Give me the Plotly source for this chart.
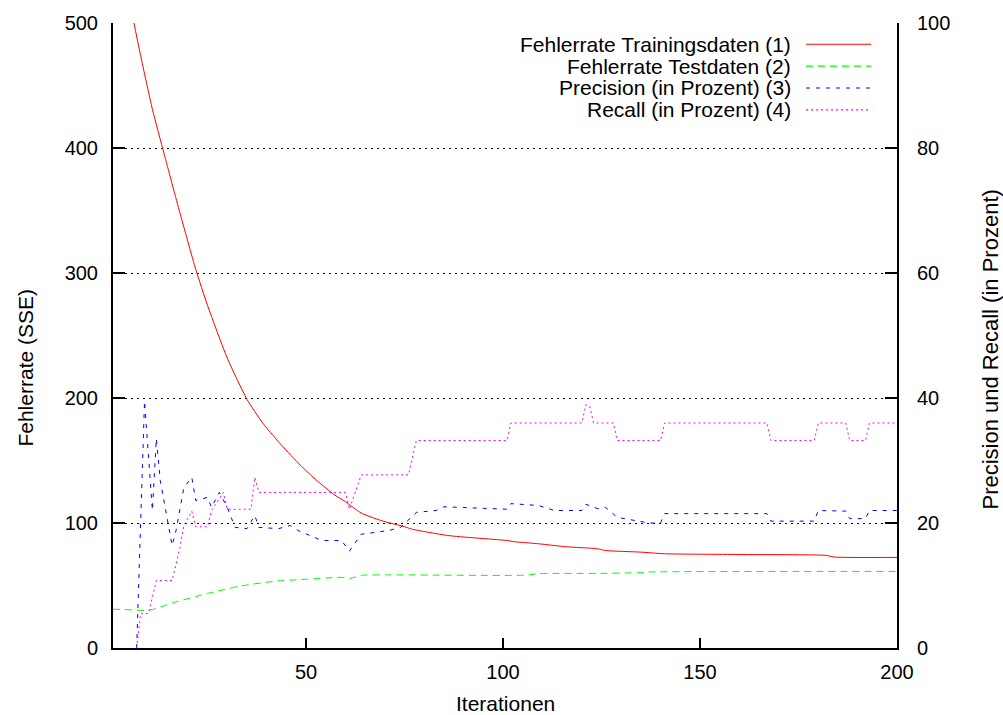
import plotly.graph_objects as go

# ---- data ----
x_train = [6, 8, 11, 14, 18, 22, 25, 30, 35, 39, 43, 48, 52, 57, 60, 64, 69, 75, 77, 86,
           101, 103, 109, 116, 124, 126, 135, 141, 160, 182, 184, 200]
y_train = [505, 474, 431, 395, 348, 303, 274, 232, 199, 180, 165, 148, 136, 123, 117, 108,
           102, 97, 95, 90, 86, 85, 83.4, 81, 79.4, 78, 76.7, 75.4, 74.8, 74.1, 72.8, 72.5]

x_test = [1, 4, 7, 9, 11, 17, 25, 33, 42, 50, 58, 60, 61, 64, 71, 106, 109, 124, 135, 137, 200]
y_test = [31, 30.8, 30.2, 30, 30.8, 36.9, 43.6, 49.4, 53.4, 55, 56.5, 56.3, 55.5, 58.1, 58.5,
          58.3, 59.5, 59.7, 60.3, 60.8, 61.3]

x_prec = [7, 9, 11, 12, 13, 16, 17, 19, 21, 22, 25, 26, 28, 30, 32, 35, 37, 38, 43, 46, 48,
          51, 54, 59, 61, 64, 71, 74, 75, 78, 83, 85, 101, 102, 109, 113, 120, 121, 124, 126,
          129, 137, 140, 141, 167, 168, 179, 180, 187, 188, 192, 193, 200]
y_prec = [0, 39.5, 22, 33.5, 26.8, 16.4, 18.8, 25.7, 27.3, 23.6, 24.1, 22.5, 24.9, 22.5, 19.3,
          19.1, 21.2, 19.3, 19.1, 19.6, 18.8, 18, 17.2, 17.2, 15.5, 18.2, 18.8, 19.3, 19.9,
          21.7, 22, 22.6, 22.2, 23.1, 22.8, 22, 22, 23, 22.3, 22.5, 20.9, 20, 20, 21.5, 21.5,
          20.3, 20.3, 22, 21.9, 20.7, 20.7, 22, 22]

x_rec = [7, 8, 10, 12, 16, 18, 19, 21, 22, 25, 26, 29, 30, 36, 37, 38, 60, 61, 64, 76, 78,
         101, 102, 120, 121, 122, 123, 128, 129, 140, 141, 167, 168, 179, 180, 187, 188, 192,
         193, 200]
y_rec = [0, 5.5, 5.5, 10.8, 10.8, 16.1, 19.6, 21.9, 19.4, 19.4, 22, 24.9, 22.2, 22.2, 27.3,
         24.9, 24.9, 22.2, 27.7, 27.7, 33.2, 33.2, 36, 36, 38.9, 38.7, 36, 36, 33.2, 33.2, 36,
         36, 33.2, 33.2, 36, 36, 33.2, 33.2, 36, 36]

names = ["Fehlerrate Trainingsdaten (1)", "Fehlerrate Testdaten (2)",
         "Precision (in Prozent) (3)", "Recall (in Prozent) (4)"]
colors = ["#ff0000", "#00ff00", "#0000ff", "#ff00ff"]
dashes = ["solid", "7px,5px", "4px,6px", "2px,3px"]
shapes_ = ["spline", "spline", "linear", "linear"]

left_ticks = [0, 100, 200, 300, 400, 500]
right_ticks = [0, 20, 40, 60, 80, 100]
x_ticks = [50, 100, 150, 200]

FONT = "Liberation Sans, Arial, Helvetica, sans-serif"

fig = go.Figure()
series = [(x_train, y_train, "y"), (x_test, y_test, "y"),
          (x_prec, y_prec, "y2"), (x_rec, y_rec, "y2")]
for (xs, ys, ax), n, c, d, s in zip(series, names, colors, dashes, shapes_):
    fig.add_trace(go.Scatter(x=xs, y=ys, name=n, mode="lines", yaxis=ax,
                             line=dict(color=c, width=1, dash=d, shape=s, smoothing=0.6),
                             showlegend=False))

# manual gnuplot-style legend (text right, sample on the right)
rows_y = [0.966, 0.931, 0.896, 0.861]
for n, c, d, yy in zip(names, colors, dashes, rows_y):
    fig.add_annotation(x=0.867, y=yy, xref="paper", yref="paper", text=n, showarrow=False,
                       xanchor="right", yanchor="middle", font=dict(size=21, color="black"))
    fig.add_shape(type="line", xref="paper", yref="paper", x0=0.884, x1=0.967, y0=yy, y1=yy,
                  line=dict(color=c, width=1.2, dash=d))

# axis titles
fig.add_annotation(x=0.5, y=-0.088, xref="paper", yref="paper", text="Iterationen",
                   showarrow=False, xanchor="center", yanchor="middle", font=dict(size=21))
fig.add_annotation(x=-0.112, y=0.449, xref="paper", yref="paper", text="Fehlerrate (SSE)",
                   showarrow=False, textangle=-90, xanchor="center", yanchor="middle",
                   font=dict(size=21))
fig.add_annotation(x=1.119, y=0.478, xref="paper", yref="paper",
                   text="Precision und Recall (in Prozent)", showarrow=False, textangle=-90,
                   xanchor="center", yanchor="middle", font=dict(size=22))

fig.update_layout(
    width=1003, height=715,
    margin=dict(l=113, r=106, t=20, b=67),
    paper_bgcolor="white", plot_bgcolor="white",
    font=dict(family=FONT, size=20, color="black"),
    xaxis=dict(range=[1, 200], tickvals=x_ticks, ticks="inside", ticklen=10, tickwidth=2,
               tickcolor="black", showline=True, linecolor="black", linewidth=2,
               showgrid=False, zeroline=False, ticklabelstandoff=5),
    yaxis=dict(range=[0, 500], tickvals=left_ticks, ticks="inside", ticklen=12, tickwidth=2,
               tickcolor="black", showline=True, linecolor="black", linewidth=2,
               showgrid=True, gridcolor="black", griddash="2px,4px", gridwidth=1,
               zeroline=False, ticklabelstandoff=9),
    yaxis2=dict(range=[0, 100], tickvals=right_ticks, overlaying="y", side="right",
                ticks="inside", ticklen=12, tickwidth=2, tickcolor="black", showline=True,
                linecolor="black", linewidth=2, showgrid=False, zeroline=False,
                ticklabelstandoff=14),
)

fig.write_html("out.html")
